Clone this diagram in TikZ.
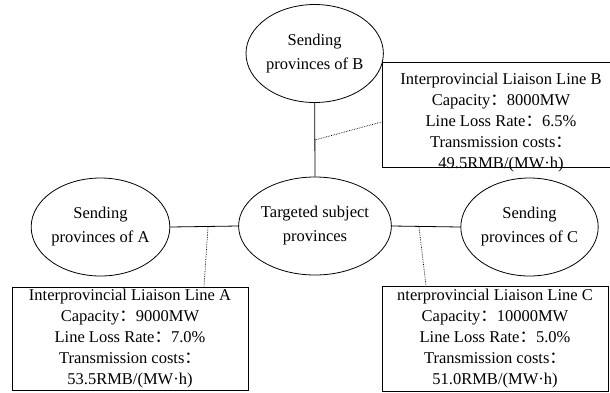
\documentclass[tikz,border=0pt]{standalone}
\usepackage{fontspec}
\setmainfont{Liberation Serif}
\newfontfamily\cjk{Noto Sans CJK SC}
\usetikzlibrary{shapes.geometric}
\newcommand{\fw}{{\cjk ：}}
\begin{document}
\begin{tikzpicture}[x=1pt,y=-1pt,
  prov/.style={draw,line width=0.8pt,ellipse,minimum width=135pt,minimum height=98pt,inner sep=0pt,align=center,font=\fontsize{16.5}{24}\selectfont},
  infobox/.style={draw,line width=0.8pt,rectangle,inner sep=0pt,align=center,font=\fontsize{16.5}{21}\selectfont},
  link/.style={line width=0.8pt},
  note/.style={densely dotted,line width=0.7pt}]
\clip (0,0) rectangle (610,392);
\fill[white] (0,0) rectangle (610,392);
\node[prov] (B) at (314.7,53.5) {Sending\\provinces of B};
\node[prov] (T) at (315,226) {Targeted subject\\provinces};
\node[prov] (A) at (100.5,227) {Sending\\provinces of A};
\node[prov] (C) at (529.5,227) {Sending\\provinces of C};
\draw[link] (B.south) -- (T.north);
\draw[link] (A.east) -- (T.west);
\draw[link] (T.east) -- (C.west);
% boxes
\node[infobox,minimum width=238pt,minimum height=105pt] (bB) at (501,114.5) {};
\node[font=\fontsize{16.5}{21}\selectfont,align=center] (tB) at (501,122.5) {Interprovincial Liaison Line B\\Capacity\fw 8000MW\\Line Loss Rate\fw 6.5\%\\Transmission costs\fw\\49.5RMB/(MW·h)};
\node[infobox,minimum width=236pt,minimum height=103pt] (bA) at (130,338.5) {Interprovincial Liaison Line A\\Capacity\fw 9000MW\\Line Loss Rate\fw 7.0\%\\Transmission costs\fw\\53.5RMB/(MW·h)};
\node[infobox,minimum width=226pt,minimum height=105pt] (bC) at (495,338.5) {nterprovincial Liaison Line C\\Capacity\fw 10000MW\\Line Loss Rate\fw 5.0\%\\Transmission costs\fw\\51.0RMB/(MW·h)};
% dotted callouts
\coordinate (pB) at (314.7,140);
\coordinate (qB) at (bB.west |- 0,122);
\draw[note] (pB) -- (qB);
\coordinate (pA) at (208,227);
\coordinate (qA) at (204,0 |- bA.north);
\draw[note] (pA) -- (qA);
\coordinate (pC) at (419,227);
\coordinate (qC) at (426,0 |- bC.north);
\draw[note] (pC) -- (qC);
\end{tikzpicture}
\end{document}
